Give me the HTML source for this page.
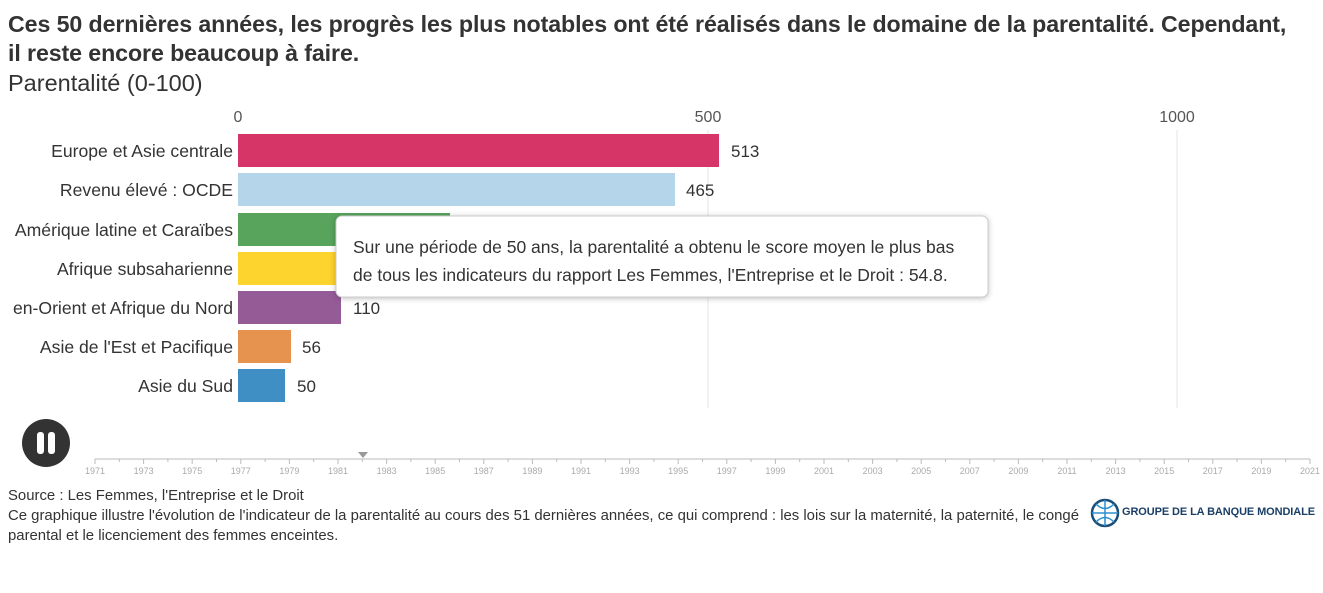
<!DOCTYPE html>
<html><head><meta charset="utf-8"><style>
body{margin:0;width:1323px;height:593px;background:#fff;font-family:"Liberation Sans",sans-serif;position:relative;overflow:hidden;color:#333}
.a{position:absolute;white-space:nowrap}
</style></head><body>
<div class="a" style="left:8px;top:10px;font-size:23.2px;font-weight:bold;color:#333;line-height:29px;letter-spacing:-0.1px">Ces 50 dernières années, les progrès les plus notables ont été réalisés dans le domaine de la parentalité. Cependant,<br>il reste encore beaucoup à faire.</div>
<div class="a" style="left:8px;top:70px;font-size:23.5px;color:#333">Parentalité (0-100)</div>
<svg class="a" style="left:0;top:0" width="1323" height="593">
<g font-family="Liberation Sans" font-size="16" fill="#555">
<text x="238" y="122" text-anchor="middle">0</text>
<text x="708" y="122" text-anchor="middle">500</text>
<text x="1177" y="122" text-anchor="middle">1000</text>
</g>
<line x1="708" y1="130" x2="708" y2="408" stroke="#e6e6e6"/>
<line x1="1177" y1="130" x2="1177" y2="408" stroke="#e6e6e6"/>
<g>
<rect x="238" y="134" width="481" height="33" fill="#d63568"/>
<rect x="238" y="173" width="437" height="33" fill="#b5d5ea"/>
<rect x="238" y="213" width="212" height="33" fill="#58a45c"/>
<rect x="238" y="252" width="160" height="33" fill="#fdd32d"/>
<rect x="238" y="291" width="103" height="33" fill="#955b97"/>
<rect x="238" y="330" width="53" height="33" fill="#e69350"/>
<rect x="238" y="369" width="47" height="33" fill="#3f8fc5"/>
</g>
<g font-family="Liberation Sans" font-size="17" fill="#333">
<text x="731" y="157">513</text><text x="686" y="196">465</text>
<text x="353" y="314">110</text><text x="302" y="353">56</text><text x="297" y="392">50</text>
</g>
<g font-family="Liberation Sans" font-size="17.6" fill="#333" text-anchor="end">
<text x="233" y="157">Europe et Asie centrale</text>
<text x="233" y="196">Revenu élevé : OCDE</text>
<text x="233" y="236">Amérique latine et Caraïbes</text>
<text x="233" y="275">Afrique subsaharienne</text>
<text x="233" y="314">en-Orient et Afrique du Nord</text>
<text x="233" y="353">Asie de l'Est et Pacifique</text>
<text x="233" y="392">Asie du Sud</text>
</g>
<rect x="0" y="290" width="7" height="30" fill="#fff"/>
<rect x="336" y="216" width="652" height="81" rx="6" fill="#fff" stroke="#ccc" style="filter:drop-shadow(0 1px 3px rgba(0,0,0,.25))"/>
<g font-family="Liberation Sans" font-size="17.5" fill="#333">
<text x="353" y="253">Sur une période de 50 ans, la parentalité a obtenu le score moyen le plus bas</text>
<text x="353" y="281">de tous les indicateurs du rapport Les Femmes, l'Entreprise et le Droit : 54.8.</text>
</g>
<circle cx="46" cy="443" r="24" fill="#333"/>
<rect x="37" y="432" width="7" height="22" rx="3" fill="#fff"/>
<rect x="48" y="432" width="7" height="22" rx="3" fill="#fff"/>
<line x1="95" y1="459" x2="1310" y2="459" stroke="#bbb"/>
<path d="M358 452h10l-5 6z" fill="#999"/>
<g id="t" stroke="#bbb"></g>
<g id="l" font-family="Liberation Sans" font-size="9" fill="#aaa" text-anchor="middle"></g>
</svg>
<div class="a" style="left:8px;top:486px;font-size:14.9px;line-height:20px;color:#333">Source : Les Femmes, l'Entreprise et le Droit<br>Ce graphique illustre l'évolution de l'indicateur de la parentalité au cours des 51 dernières années, ce qui comprend : les lois sur la maternité, la paternité, le congé<br>parental et le licenciement des femmes enceintes.</div>
<svg class="a" style="left:1090px;top:498px" width="30" height="30"><circle cx="15" cy="15" r="13" fill="none" stroke="#1a4f7a" stroke-width="2.5"/><path d="M2 15h26M15 2v26M6 6q9 9 18 0M6 24q9-9 18 0" fill="none" stroke="#2a8fd0" stroke-width="1.5"/></svg>
<div class="a" style="left:1122px;top:506px;font-size:11px;font-weight:bold;color:#1a3f66;letter-spacing:-0.1px">GROUPE DE LA BANQUE MONDIALE</div>
<script>
var t=document.getElementById('t'),l=document.getElementById('l'),s='';var ls='';
for(var y=1971;y<=2021;y++){var x=95+(y-1971)*24.3;var odd=(y%2==1);s+='<line x1="'+x+'" y1="459" x2="'+x+'" y2="'+(odd?464:462)+'"/>';if(odd)ls+='<text x="'+x+'" y="474">'+y+'</text>';}
t.innerHTML=s;l.innerHTML=ls;
</script>
</body></html>
